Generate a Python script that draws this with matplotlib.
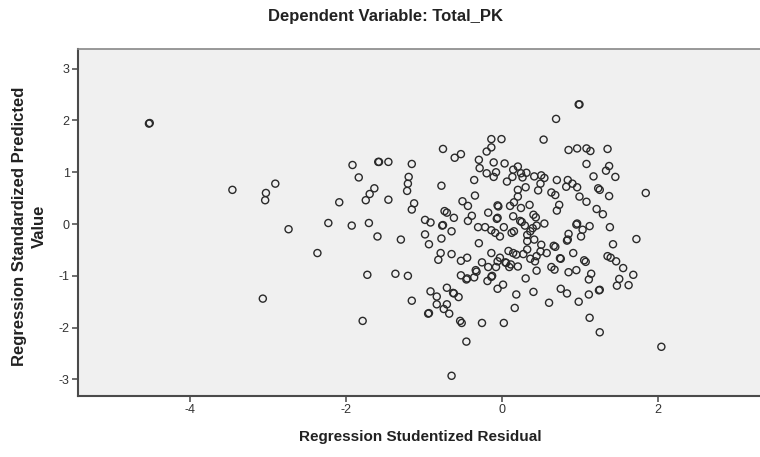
import numpy as np
import matplotlib
matplotlib.use("Agg")
import matplotlib.pyplot as plt

plt.rcParams["font.family"] = ["Liberation Sans", "DejaVu Sans"]
plt.rcParams["axes.unicode_minus"] = False

# studentized residual (x) and standardized predicted value (y)
resid = [
    -4.53, 0.98, 0.69, -3.46, -2.91, -3.03, -3.04, -2.74, -2.37, -3.07,
    -2.23, -2.09, -1.92, -1.84, -1.93, -1.59, -1.46, -1.64, -1.70, -1.75,
    -1.71, -1.60, -1.46, -1.30, -1.73, -1.37, -1.21, -1.79, -1.16, -1.20,
    -1.21, -1.22, -1.13, -1.16, -1.16, -0.99, -0.92, -0.99, -0.94, -0.78,
    -0.77, -0.65, -0.74, -0.71, -0.62, -0.78, -0.76, -0.61, -0.53, -0.51,
    -0.44, -0.39, -0.44, -0.35, -0.36, -0.30, -0.29, -0.20, -0.11, -0.20,
    -0.14, -0.14, -0.01, -0.11, 0.03, -0.08, -0.18, -0.31, -0.22, -0.14,
    -0.07, -0.06, -0.06, -0.05, 0.10, -0.09, -0.03, 0.02, 0.06, 0.13,
    0.14, 0.20, 0.24, 0.31, 0.26, 0.30, 0.20, 0.20, 0.15, 0.24,
    0.35, 0.14, 0.23, 0.25, 0.15, 0.12, 0.29, 0.40, 0.43, 0.44,
    0.54, 0.36, 0.32, 0.41, 0.50, 0.41, 0.53, 0.50, 0.54, 0.49,
    0.46, 0.63, 0.68, 0.73, 0.70, 0.70, 0.85, 0.96, 1.08, 1.13,
    1.35, 1.08, 1.37, 1.33, 1.45, 1.17, 0.84, 0.90, 0.96, 0.82,
    0.99, 1.08, 1.23, 1.25, 1.37, 1.84, 1.21, 1.29, 0.95, 0.96,
    1.12, 1.03, 1.01, 0.85, 0.83, 0.84, 1.38, 1.42, 1.72, 0.66,
    0.68, 0.57, 0.49, 0.44, 0.42, 0.36, 0.32, 0.27, 0.74, 0.75,
    0.91, 1.05, 1.07, 1.35, 1.39, 1.46, 1.55, 1.50, 1.47, 1.62,
    1.68, 1.14, 1.11, 1.24, 1.25, 1.11, 0.98, 0.85, 0.95, 0.63,
    0.67, 0.44, 0.30, 0.20, 0.11, 0.09, 0.04, 0.05, 0.18, 0.14,
    0.08, -0.03, -0.06, -0.14, -0.08, -0.18, -0.26, -0.13, -0.14, -0.19,
    0.01, -0.06, 0.18, 0.40, 0.16, 0.60, 0.75, 0.83, 1.12, 1.25,
    2.04, 0.02, -0.26, -0.46, -0.65, -0.54, -0.52, -0.68, -0.75, -0.71,
    -0.84, -0.95, -0.94, -0.84, -0.92, -0.71, -0.63, -0.62, -0.56, -0.53,
    -0.46, -0.45, -0.36, -0.34, -0.33, -0.53, -0.45, -0.65, -0.79, -0.82,
    -0.30, 0.32, 0.39, -4.52, 0.99, -1.58, -0.76,
]
pred = [
    1.94, 2.31, 2.03, 0.66, 0.78, 0.60, 0.46, -0.10, -0.56, -1.44,
    0.02, 0.42, 1.14, 0.90, -0.03, 1.20, 1.20, 0.69, 0.58, 0.46,
    0.02, -0.24, 0.47, -0.30, -0.98, -0.96, -1.00, -1.87, 1.16, 0.91,
    0.78, 0.64, 0.40, 0.28, -1.48, 0.08, 0.03, -0.20, -0.39, -0.28,
    -0.03, -0.14, 0.25, 0.22, 0.12, 0.74, 1.45, 1.28, 1.35, 0.44,
    0.35, 0.16, 0.06, 0.55, 0.85, 1.24, 1.08, 0.98, 0.91, 1.40,
    1.48, 1.64, 1.64, 1.19, 1.17, 1.00, 0.22, -0.06, -0.06, -0.12,
    0.10, 0.12, 0.36, 0.34, 0.35, -0.17, -0.24, -0.06, 0.82, 0.91,
    1.05, 1.11, 0.98, 0.99, 0.90, 0.71, 0.66, 0.53, 0.42, 0.31,
    0.37, 0.15, 0.06, 0.04, -0.14, -0.17, -0.03, 0.18, 0.13, -0.03,
    0.01, -0.14, -0.33, -0.30, -0.40, 0.92, 1.63, 0.94, 0.89, 0.78,
    0.65, 0.61, 0.56, 0.37, 0.26, 0.85, 1.43, 1.46, 1.46, 1.41,
    1.45, 1.16, 1.12, 1.03, 0.91, 0.92, 0.85, 0.78, 0.71, 0.72,
    0.53, 0.43, 0.69, 0.66, 0.54, 0.60, 0.29, 0.19, -0.01, 0.01,
    -0.04, -0.11, -0.24, -0.19, -0.32, -0.30, -0.06, -0.39, -0.29, -0.42,
    -0.44, -0.56, -0.53, -0.62, -0.72, -0.67, -0.49, -0.58, -0.66, -0.67,
    -0.56, -0.70, -0.73, -0.62, -0.65, -0.72, -0.85, -1.06, -1.19, -1.18,
    -0.98, -0.96, -1.07, -1.28, -1.27, -1.36, -1.50, -0.93, -0.89, -0.83,
    -0.88, -0.90, -1.05, -0.82, -0.78, -0.83, -0.74, -0.75, -0.59, -0.56,
    -0.52, -0.65, -0.72, -0.56, -0.83, -0.83, -0.74, -1.00, -1.02, -1.10,
    -1.17, -1.25, -1.36, -1.31, -1.62, -1.52, -1.25, -1.34, -1.81, -2.09,
    -2.37, -1.91, -1.91, -2.27, -2.93, -1.87, -1.91, -1.73, -1.64, -1.55,
    -1.55, -1.73, -1.72, -1.40, -1.30, -1.23, -1.33, -1.34, -1.41, -0.99,
    -1.07, -1.05, -1.03, -0.89, -0.92, -0.71, -0.65, -0.58, -0.56, -0.69,
    -0.37, -0.21, -0.08, 1.95, 2.31, 1.20, -0.02,
]

x_ticks = [-4, -2, 0, 2]
y_ticks = [-3, -2, -1, 0, 1, 2, 3]

fig = plt.figure(figsize=(7.6, 4.57), dpi=100)
ax = fig.add_axes([0.1026, 0.1335, 0.9, 0.7593])
ax.set_facecolor("#f0f0f0")

ax.scatter(resid, pred, s=26, facecolors="none", edgecolors="#2a2a2a",
           linewidths=1.0, zorder=3)

ax.set_xlim(-5.44, 3.33)
ax.set_ylim(-3.32, 3.38)
ax.set_xticks(x_ticks)
ax.set_yticks(y_ticks)
ax.tick_params(direction="out", length=4, width=1.2, color="#555555",
               labelsize=9, labelcolor="#333333", pad=2)

for side in ["left", "bottom"]:
    ax.spines[side].set_color("#4a4a4a")
    ax.spines[side].set_linewidth(1.5)
ax.spines["top"].set_color("#888888")
ax.spines["top"].set_linewidth(1.2)
ax.spines["right"].set_visible(False)

fig.text(385 / 760, 1 - 17 / 457, "Dependent Variable: Total_PK",
         ha="center", va="center", fontsize=12, fontweight="bold", color="#222222")
ax.set_xlabel("Regression Studentized Residual", fontsize=11,
              fontweight="bold", color="#222222", labelpad=10)
fig.text(29 / 760, 1 - 226 / 457, "Regression Standardized Predicted\nValue",
         ha="center", va="center", rotation=90, fontsize=12,
         fontweight="bold", color="#222222", linespacing=1.4)

fig.savefig("out.png", dpi=100)
